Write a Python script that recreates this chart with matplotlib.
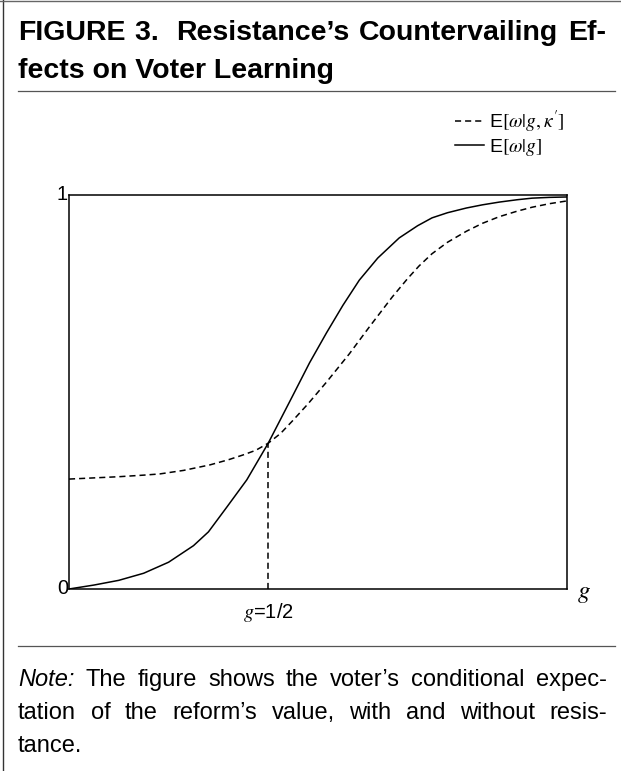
import matplotlib
matplotlib.use("Agg")
import matplotlib.pyplot as plt
from matplotlib.lines import Line2D

plt.rcParams['font.family'] = ['Liberation Sans', 'DejaVu Sans']
plt.rcParams['mathtext.fontset'] = 'stix'

# values
g_solid = [0, 0.05, 0.10, 0.15, 0.20, 0.25, 0.28, 0.317, 0.357, 0.40, 0.449,
           0.483, 0.517, 0.55, 0.583, 0.62, 0.663, 0.70, 0.729, 0.76, 0.798,
           0.83, 0.864, 0.90, 0.93, 0.965, 1.0]
e_solid = [0, 0.010, 0.022, 0.040, 0.068, 0.110, 0.145, 0.208, 0.277, 0.370, 0.490,
           0.574, 0.650, 0.720, 0.784, 0.840, 0.891, 0.922, 0.942, 0.955, 0.967,
           0.975, 0.982, 0.988, 0.992, 0.994, 0.995]

g_dash = [0, 0.05, 0.10, 0.15, 0.182, 0.23, 0.283, 0.32, 0.349, 0.375, 0.40,
          0.425, 0.449, 0.48, 0.517, 0.563, 0.603, 0.649, 0.68, 0.703, 0.729,
          0.76, 0.798, 0.83, 0.864, 0.90, 0.93, 0.965, 1.0]
e_dash = [0.279, 0.282, 0.285, 0.289, 0.292, 0.301, 0.315, 0.328, 0.340, 0.352, 0.370,
          0.395, 0.427, 0.470, 0.525, 0.597, 0.665, 0.741, 0.788, 0.820, 0.851,
          0.880, 0.908, 0.928, 0.945, 0.959, 0.969, 0.978, 0.985]

g_half = 0.40
e_cross = 0.370

W, H = 621, 771
fig = plt.figure(figsize=(W / 100, H / 100), dpi=100)
renderer = fig.canvas.get_renderer()


def justify(words, x0, x1, y, **kw):
    """Place words on one line spread from x0 to x1 (pixels), like justified print."""
    texts = []
    for w in words:
        style = 'normal'
        if isinstance(w, tuple):
            w, style = w
        texts.append(fig.text(0, 1 - y / H, w, ha='left', va='baseline',
                              style=style, **kw))
    widths = [t.get_window_extent(renderer).width for t in texts]
    gap = (x1 - x0 - sum(widths)) / (len(texts) - 1)
    x = x0
    for t, wd in zip(texts, widths):
        t.set_x(x / W)
        x += wd + gap


# outer frame (left and top only) and rules
fig.add_artist(Line2D([3 / W, 3 / W], [0, 1], color='#333333', lw=1.0))
fig.add_artist(Line2D([0, 1], [1 - 1 / H, 1 - 1 / H], color='#666666', lw=1.0))
fig.add_artist(Line2D([18 / W, 615 / W], [1 - 91 / H] * 2, color='#555555', lw=0.9))
fig.add_artist(Line2D([18 / W, 615 / W], [1 - 646 / H] * 2, color='#555555', lw=0.9))

title_kw = dict(fontsize=20.5, fontweight='bold')
justify(["FIGURE", "3. ", "Resistance\u2019s", "Countervailing", "Ef-"],
        18, 606, 40, **title_kw)
fig.text(18 / W, 1 - 78 / H, "fects on Voter Learning", ha='left',
         va='baseline', **title_kw)

note_kw = dict(fontsize=17)
justify([("Note:", 'italic'), "The", "figure", "shows", "the", "voter\u2019s",
         "conditional", "expec-"], 18, 607, 686, **note_kw)
justify(["tation", "of", "the", "reform\u2019s", "value,", "with", "and",
         "without", "resis-"], 18, 607, 719, **note_kw)
fig.text(18 / W, 1 - 752 / H, "tance.", ha='left', va='baseline', **note_kw)

ax = fig.add_axes([69 / W, 1 - 589 / H, 498 / W, 394 / H])
ax.plot(g_dash, e_dash, color='black', lw=1.1, dashes=(4, 2.6),
        label=r"E$[\omega|g,\kappa']$")
ax.plot(g_solid, e_solid, color='black', lw=1.1, label=r"E$[\omega|g]$")
ax.plot([g_half, g_half], [0, e_cross], color='black', lw=1.1, dashes=(4, 2.6))

ax.set_xlim(0, 1)
ax.set_ylim(0, 1)
ax.set_xticks([])
ax.set_yticks([])
for s in ax.spines.values():
    s.set_linewidth(1.1)

ax.text(-0.002, 1, "1", transform=ax.transAxes, ha='right', va='center', fontsize=14.5)
ax.text(-0.002, 0, "0", transform=ax.transAxes, ha='right', va='center', fontsize=14.5)
ax.text(1.02, -0.01, "$g$", transform=ax.transAxes, ha='left', va='center', fontsize=18)
ax.text(g_half, -0.06, "$g$=1/2", transform=ax.get_xaxis_transform(),
        ha='center', va='center', fontsize=14.5)

fig.legend(loc='upper left', bbox_to_anchor=(455 / W, 1 - 109 / H),
           frameon=False, fontsize=14, handlelength=1.5, handletextpad=0.25,
           labelspacing=0.1, borderaxespad=0, borderpad=0)

fig.savefig("out.png", dpi=100)
